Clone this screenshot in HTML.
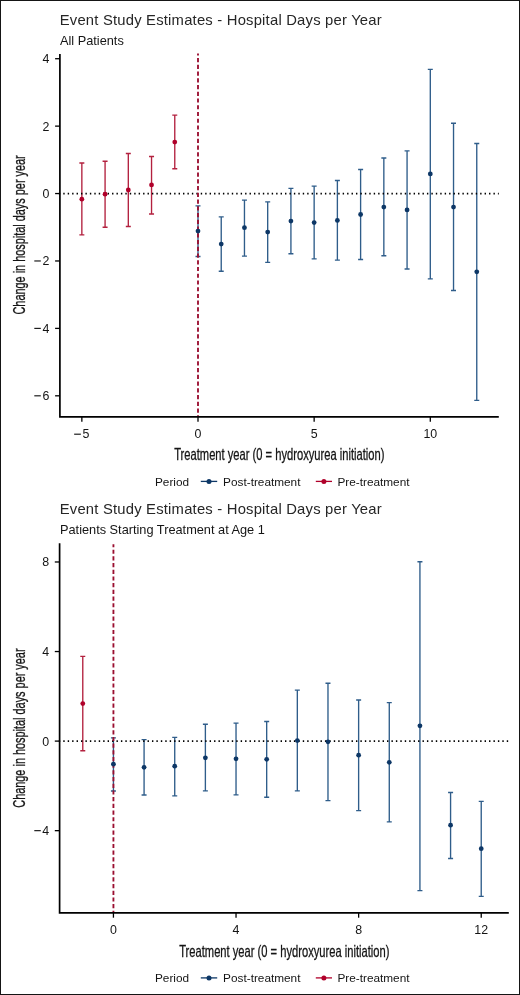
<!DOCTYPE html>
<html><head><meta charset="utf-8"><style>
html,body{margin:0;padding:0;background:#fff;}
body{width:520px;height:995px;overflow:hidden;position:relative;}
svg{position:absolute;left:0;top:0;will-change:transform;}
text{font-family:'Liberation Sans', sans-serif;fill:#141414;}
</style></head><body>
<svg width="520" height="995" viewBox="0 0 520 995">
<rect x="0.5" y="0.5" width="519" height="994" fill="#fff" stroke="#151515" stroke-width="1"/>
<text x="59.70" y="24.70" font-size="14.8" text-anchor="start" letter-spacing="0.21" style="fill:#262626">Event Study Estimates - Hospital Days per Year</text>
<text x="60.00" y="45.30" font-size="12.75" text-anchor="start" >All Patients</text>
<path d="M81.85 163.00V234.80M79.35 163.00H84.35M79.35 234.80H84.35" stroke="#b3213f" stroke-width="1.35" fill="none"/>
<path d="M105.08 161.20V227.20M102.58 161.20H107.58M102.58 227.20H107.58" stroke="#b3213f" stroke-width="1.35" fill="none"/>
<path d="M128.31 153.50V226.50M125.81 153.50H130.81M125.81 226.50H130.81" stroke="#b3213f" stroke-width="1.35" fill="none"/>
<path d="M151.54 156.50V214.00M149.04 156.50H154.04M149.04 214.00H154.04" stroke="#b3213f" stroke-width="1.35" fill="none"/>
<path d="M174.77 115.10V168.70M172.27 115.10H177.27M172.27 168.70H177.27" stroke="#b3213f" stroke-width="1.35" fill="none"/>
<path d="M198.00 205.90V256.50M195.50 205.90H200.50M195.50 256.50H200.50" stroke="#2f5d8a" stroke-width="1.35" fill="none"/>
<path d="M221.23 216.80V271.20M218.73 216.80H223.73M218.73 271.20H223.73" stroke="#2f5d8a" stroke-width="1.35" fill="none"/>
<path d="M244.46 200.10V256.10M241.96 200.10H246.96M241.96 256.10H246.96" stroke="#2f5d8a" stroke-width="1.35" fill="none"/>
<path d="M267.69 201.80V262.40M265.19 201.80H270.19M265.19 262.40H270.19" stroke="#2f5d8a" stroke-width="1.35" fill="none"/>
<path d="M290.92 188.40V253.70M288.42 188.40H293.42M288.42 253.70H293.42" stroke="#2f5d8a" stroke-width="1.35" fill="none"/>
<path d="M314.15 186.10V258.80M311.65 186.10H316.65M311.65 258.80H316.65" stroke="#2f5d8a" stroke-width="1.35" fill="none"/>
<path d="M337.38 180.50V260.10M334.88 180.50H339.88M334.88 260.10H339.88" stroke="#2f5d8a" stroke-width="1.35" fill="none"/>
<path d="M360.61 169.50V259.50M358.11 169.50H363.11M358.11 259.50H363.11" stroke="#2f5d8a" stroke-width="1.35" fill="none"/>
<path d="M383.84 158.00V255.70M381.34 158.00H386.34M381.34 255.70H386.34" stroke="#2f5d8a" stroke-width="1.35" fill="none"/>
<path d="M407.07 150.80V269.00M404.57 150.80H409.57M404.57 269.00H409.57" stroke="#2f5d8a" stroke-width="1.35" fill="none"/>
<path d="M430.30 69.30V278.80M427.80 69.30H432.80M427.80 278.80H432.80" stroke="#2f5d8a" stroke-width="1.35" fill="none"/>
<path d="M453.53 123.20V290.50M451.03 123.20H456.03M451.03 290.50H456.03" stroke="#2f5d8a" stroke-width="1.35" fill="none"/>
<path d="M476.76 143.50V400.40M474.26 143.50H479.26M474.26 400.40H479.26" stroke="#2f5d8a" stroke-width="1.35" fill="none"/>
<line x1="58.83" y1="193.55" x2="498.80" y2="193.55" stroke="#000" stroke-width="1.8" stroke-dasharray="1.4 3.035"/>
<line x1="198.00" y1="416.90" x2="198.00" y2="53.40" stroke="#9a0f30" stroke-width="1.85" stroke-dasharray="4.2 2.540" stroke-dashoffset="2.50"/>
<circle cx="81.85" cy="199.20" r="2.4" fill="#b0002a"/>
<circle cx="105.08" cy="194.20" r="2.4" fill="#b0002a"/>
<circle cx="128.31" cy="190.00" r="2.4" fill="#b0002a"/>
<circle cx="151.54" cy="184.90" r="2.4" fill="#b0002a"/>
<circle cx="174.77" cy="142.10" r="2.4" fill="#b0002a"/>
<circle cx="198.00" cy="231.10" r="2.4" fill="#0d3766"/>
<circle cx="221.23" cy="244.10" r="2.4" fill="#0d3766"/>
<circle cx="244.46" cy="227.70" r="2.4" fill="#0d3766"/>
<circle cx="267.69" cy="232.10" r="2.4" fill="#0d3766"/>
<circle cx="290.92" cy="221.10" r="2.4" fill="#0d3766"/>
<circle cx="314.15" cy="222.60" r="2.4" fill="#0d3766"/>
<circle cx="337.38" cy="220.40" r="2.4" fill="#0d3766"/>
<circle cx="360.61" cy="214.50" r="2.4" fill="#0d3766"/>
<circle cx="383.84" cy="207.10" r="2.4" fill="#0d3766"/>
<circle cx="407.07" cy="209.90" r="2.4" fill="#0d3766"/>
<circle cx="430.30" cy="173.90" r="2.4" fill="#0d3766"/>
<circle cx="453.53" cy="207.10" r="2.4" fill="#0d3766"/>
<circle cx="476.76" cy="271.80" r="2.4" fill="#0d3766"/>
<path d="M59.90 54.00 V416.90 H498.80" fill="none" stroke="#000" stroke-width="1.7"/>
<line x1="55.10" y1="58.71" x2="59.90" y2="58.71" stroke="#000" stroke-width="1.3"/>
<text x="49.50" y="63.11" font-size="12.4" text-anchor="end" >4</text>
<line x1="55.10" y1="126.13" x2="59.90" y2="126.13" stroke="#000" stroke-width="1.3"/>
<text x="49.50" y="130.53" font-size="12.4" text-anchor="end" >2</text>
<line x1="55.10" y1="193.55" x2="59.90" y2="193.55" stroke="#000" stroke-width="1.3"/>
<text x="49.50" y="197.95" font-size="12.4" text-anchor="end" >0</text>
<line x1="55.10" y1="260.97" x2="59.90" y2="260.97" stroke="#000" stroke-width="1.3"/>
<text x="49.50" y="265.37" font-size="12.4" text-anchor="end" >2</text>
<line x1="34.3" y1="260.97" x2="40.8" y2="260.97" stroke="#141414" stroke-width="1.15"/>
<line x1="55.10" y1="328.39" x2="59.90" y2="328.39" stroke="#000" stroke-width="1.3"/>
<text x="49.50" y="332.79" font-size="12.4" text-anchor="end" >4</text>
<line x1="34.3" y1="328.39" x2="40.8" y2="328.39" stroke="#141414" stroke-width="1.15"/>
<line x1="55.10" y1="395.81" x2="59.90" y2="395.81" stroke="#000" stroke-width="1.3"/>
<text x="49.50" y="400.21" font-size="12.4" text-anchor="end" >6</text>
<line x1="34.3" y1="395.81" x2="40.8" y2="395.81" stroke="#141414" stroke-width="1.15"/>
<line x1="81.85" y1="416.90" x2="81.85" y2="421.70" stroke="#000" stroke-width="1.3"/>
<text x="82.45" y="437.90" font-size="12.4" text-anchor="start" >5</text>
<line x1="74.15" y1="434.20" x2="80.85" y2="434.20" stroke="#141414" stroke-width="1.15"/>
<line x1="198.00" y1="416.90" x2="198.00" y2="421.70" stroke="#000" stroke-width="1.3"/>
<text x="198.00" y="437.90" font-size="12.4" text-anchor="middle" >0</text>
<line x1="314.15" y1="416.90" x2="314.15" y2="421.70" stroke="#000" stroke-width="1.3"/>
<text x="314.15" y="437.90" font-size="12.4" text-anchor="middle" >5</text>
<line x1="430.30" y1="416.90" x2="430.30" y2="421.70" stroke="#000" stroke-width="1.3"/>
<text x="430.30" y="437.90" font-size="12.4" text-anchor="middle" >10</text>
<text transform="translate(174.20,460.00) scale(0.707,1)" font-size="15.8" stroke="#141414" stroke-width="0.3">Treatment year (0 = hydroxyurea initiation)</text>
<text transform="translate(25.3,234.90) rotate(-90) scale(0.69,1)" font-size="15.8" text-anchor="middle" stroke="#141414" stroke-width="0.3">Change in hospital days per year</text>
<text x="155.00" y="485.60" font-size="11.8" text-anchor="start" >Period</text>
<line x1="200.8" y1="481.4" x2="217.2" y2="481.4" stroke="#0d3766" stroke-width="1.3"/>
<circle cx="209.0" cy="481.4" r="2.5" fill="#0d3766"/>
<text x="223.10" y="485.60" font-size="11.8" text-anchor="start" >Post-treatment</text>
<line x1="315.8" y1="481.4" x2="332.0" y2="481.4" stroke="#b0002a" stroke-width="1.3"/>
<circle cx="323.9" cy="481.4" r="2.5" fill="#b0002a"/>
<text x="337.40" y="485.60" font-size="11.8" text-anchor="start" >Pre-treatment</text>
<text x="59.70" y="513.80" font-size="14.8" text-anchor="start" letter-spacing="0.21" style="fill:#262626">Event Study Estimates - Hospital Days per Year</text>
<text x="60.00" y="534.40" font-size="12.75" text-anchor="start" >Patients Starting Treatment at Age 1</text>
<path d="M82.78 656.40V750.70M80.28 656.40H85.28M80.28 750.70H85.28" stroke="#b3213f" stroke-width="1.35" fill="none"/>
<path d="M113.43 737.80V791.00M110.93 737.80H115.93M110.93 791.00H115.93" stroke="#2f5d8a" stroke-width="1.35" fill="none"/>
<path d="M144.08 739.60V795.00M141.58 739.60H146.58M141.58 795.00H146.58" stroke="#2f5d8a" stroke-width="1.35" fill="none"/>
<path d="M174.73 737.30V795.80M172.23 737.30H177.23M172.23 795.80H177.23" stroke="#2f5d8a" stroke-width="1.35" fill="none"/>
<path d="M205.38 724.20V790.80M202.88 724.20H207.88M202.88 790.80H207.88" stroke="#2f5d8a" stroke-width="1.35" fill="none"/>
<path d="M236.03 723.10V794.90M233.53 723.10H238.53M233.53 794.90H238.53" stroke="#2f5d8a" stroke-width="1.35" fill="none"/>
<path d="M266.68 721.50V797.20M264.18 721.50H269.18M264.18 797.20H269.18" stroke="#2f5d8a" stroke-width="1.35" fill="none"/>
<path d="M297.33 690.10V790.90M294.83 690.10H299.83M294.83 790.90H299.83" stroke="#2f5d8a" stroke-width="1.35" fill="none"/>
<path d="M327.98 683.20V800.60M325.48 683.20H330.48M325.48 800.60H330.48" stroke="#2f5d8a" stroke-width="1.35" fill="none"/>
<path d="M358.63 700.00V810.60M356.13 700.00H361.13M356.13 810.60H361.13" stroke="#2f5d8a" stroke-width="1.35" fill="none"/>
<path d="M389.28 702.60V821.90M386.78 702.60H391.78M386.78 821.90H391.78" stroke="#2f5d8a" stroke-width="1.35" fill="none"/>
<path d="M419.93 561.70V890.60M417.43 561.70H422.43M417.43 890.60H422.43" stroke="#2f5d8a" stroke-width="1.35" fill="none"/>
<path d="M450.58 792.50V858.50M448.08 792.50H453.08M448.08 858.50H453.08" stroke="#2f5d8a" stroke-width="1.35" fill="none"/>
<path d="M481.23 801.30V896.30M478.73 801.30H483.73M478.73 896.30H483.73" stroke="#2f5d8a" stroke-width="1.35" fill="none"/>
<line x1="58.83" y1="741.10" x2="508.80" y2="741.10" stroke="#000" stroke-width="1.8" stroke-dasharray="1.4 3.035"/>
<line x1="113.43" y1="912.90" x2="113.43" y2="544.30" stroke="#9a0f30" stroke-width="1.85" stroke-dasharray="4.2 2.488" stroke-dashoffset="2.10"/>
<circle cx="82.78" cy="703.60" r="2.4" fill="#b0002a"/>
<circle cx="113.43" cy="764.20" r="2.4" fill="#0d3766"/>
<circle cx="144.08" cy="767.30" r="2.4" fill="#0d3766"/>
<circle cx="174.73" cy="766.20" r="2.4" fill="#0d3766"/>
<circle cx="205.38" cy="757.80" r="2.4" fill="#0d3766"/>
<circle cx="236.03" cy="758.80" r="2.4" fill="#0d3766"/>
<circle cx="266.68" cy="759.30" r="2.4" fill="#0d3766"/>
<circle cx="297.33" cy="740.60" r="2.4" fill="#0d3766"/>
<circle cx="327.98" cy="741.80" r="2.4" fill="#0d3766"/>
<circle cx="358.63" cy="755.20" r="2.4" fill="#0d3766"/>
<circle cx="389.28" cy="762.30" r="2.4" fill="#0d3766"/>
<circle cx="419.93" cy="725.80" r="2.4" fill="#0d3766"/>
<circle cx="450.58" cy="825.20" r="2.4" fill="#0d3766"/>
<circle cx="481.23" cy="848.70" r="2.4" fill="#0d3766"/>
<path d="M59.60 543.20 V912.90 H508.80" fill="none" stroke="#000" stroke-width="1.7"/>
<line x1="54.80" y1="561.98" x2="59.60" y2="561.98" stroke="#000" stroke-width="1.3"/>
<text x="49.20" y="566.38" font-size="12.4" text-anchor="end" >8</text>
<line x1="54.80" y1="651.54" x2="59.60" y2="651.54" stroke="#000" stroke-width="1.3"/>
<text x="49.20" y="655.94" font-size="12.4" text-anchor="end" >4</text>
<line x1="54.80" y1="741.10" x2="59.60" y2="741.10" stroke="#000" stroke-width="1.3"/>
<text x="49.20" y="745.50" font-size="12.4" text-anchor="end" >0</text>
<line x1="54.80" y1="830.66" x2="59.60" y2="830.66" stroke="#000" stroke-width="1.3"/>
<text x="49.20" y="835.06" font-size="12.4" text-anchor="end" >4</text>
<line x1="34.3" y1="830.66" x2="40.8" y2="830.66" stroke="#141414" stroke-width="1.15"/>
<line x1="113.43" y1="912.90" x2="113.43" y2="917.70" stroke="#000" stroke-width="1.3"/>
<text x="113.43" y="933.90" font-size="12.4" text-anchor="middle" >0</text>
<line x1="236.03" y1="912.90" x2="236.03" y2="917.70" stroke="#000" stroke-width="1.3"/>
<text x="236.03" y="933.90" font-size="12.4" text-anchor="middle" >4</text>
<line x1="358.63" y1="912.90" x2="358.63" y2="917.70" stroke="#000" stroke-width="1.3"/>
<text x="358.63" y="933.90" font-size="12.4" text-anchor="middle" >8</text>
<line x1="481.23" y1="912.90" x2="481.23" y2="917.70" stroke="#000" stroke-width="1.3"/>
<text x="481.23" y="933.90" font-size="12.4" text-anchor="middle" >12</text>
<text transform="translate(179.20,956.90) scale(0.707,1)" font-size="15.8" stroke="#141414" stroke-width="0.3">Treatment year (0 = hydroxyurea initiation)</text>
<text transform="translate(25.3,728.10) rotate(-90) scale(0.69,1)" font-size="15.8" text-anchor="middle" stroke="#141414" stroke-width="0.3">Change in hospital days per year</text>
<text x="155.00" y="982.00" font-size="11.8" text-anchor="start" >Period</text>
<line x1="200.8" y1="977.9" x2="217.2" y2="977.9" stroke="#0d3766" stroke-width="1.3"/>
<circle cx="209.0" cy="977.9" r="2.5" fill="#0d3766"/>
<text x="223.10" y="982.00" font-size="11.8" text-anchor="start" >Post-treatment</text>
<line x1="315.8" y1="977.9" x2="332.0" y2="977.9" stroke="#b0002a" stroke-width="1.3"/>
<circle cx="323.9" cy="977.9" r="2.5" fill="#b0002a"/>
<text x="337.40" y="982.00" font-size="11.8" text-anchor="start" >Pre-treatment</text>
</svg>
</body></html>
